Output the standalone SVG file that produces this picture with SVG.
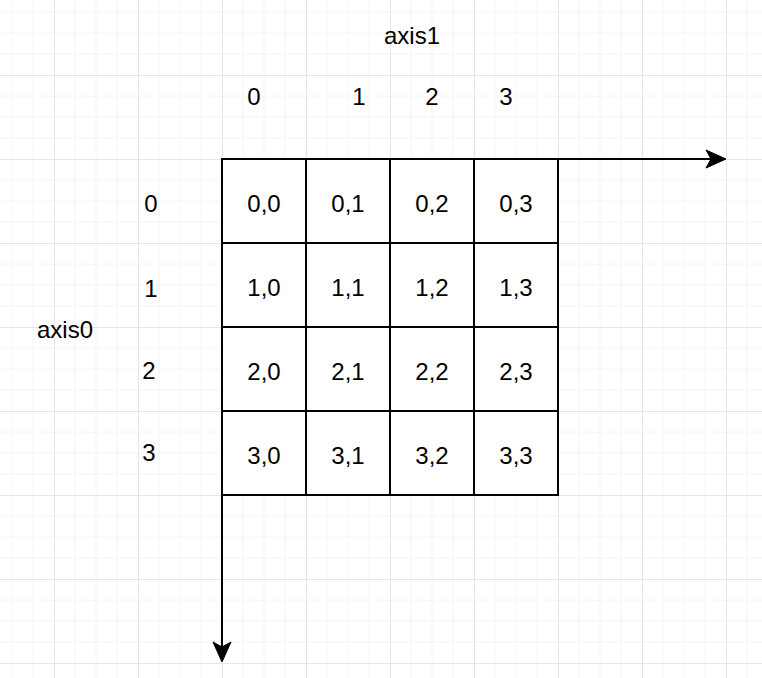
<svg xmlns="http://www.w3.org/2000/svg" width="762" height="678" viewBox="0 0 762 678">
<defs>
<pattern id="grid" x="-30" y="-9" width="84" height="84" patternUnits="userSpaceOnUse">
<path d="M21 0V84M42 0V84M63 0V84M0 21H84M0 42H84M0 63H84" stroke="#f4f4f4" stroke-width="1" fill="none"/>
<path d="M0.5 0V84M0 0.5H84" stroke="#e6e6e6" stroke-width="1" fill="none"/>
</pattern>
</defs>
<style>
text{font-family:"Liberation Sans",Arial,sans-serif;font-size:24px;fill:#000;text-anchor:middle}
.cell{fill:#fff;stroke:#000;stroke-width:2}
.ax{stroke:#000;stroke-width:2;fill:none}
.head{fill:#000;stroke:#000;stroke-width:1}
</style>
<rect width="762" height="678" fill="#fff"/>
<rect width="762" height="678" fill="url(#grid)"/>
<g id="labels">
<text id="axis1" x="412" y="44">axis1</text>
<text id="axis0" x="65" y="338">axis0</text>
<text x="254" y="105">0</text>
<text x="359" y="105">1</text>
<text x="432" y="105">2</text>
<text x="506" y="105">3</text>
<text x="151" y="212">0</text>
<text x="151" y="297">1</text>
<text x="149" y="379">2</text>
<text x="149" y="461">3</text>
</g>
<g id="table">
<g id="r0">
<rect class="cell" x="222" y="159" width="84" height="84"/><text x="264" y="212">0,0</text>
<rect class="cell" x="306" y="159" width="84" height="84"/><text x="348" y="212">0,1</text>
<rect class="cell" x="390" y="159" width="84" height="84"/><text x="432" y="212">0,2</text>
<rect class="cell" x="474" y="159" width="84" height="84"/><text x="516" y="212">0,3</text>
</g>
<g id="r1">
<rect class="cell" x="222" y="243" width="84" height="84"/><text x="264" y="296">1,0</text>
<rect class="cell" x="306" y="243" width="84" height="84"/><text x="348" y="296">1,1</text>
<rect class="cell" x="390" y="243" width="84" height="84"/><text x="432" y="296">1,2</text>
<rect class="cell" x="474" y="243" width="84" height="84"/><text x="516" y="296">1,3</text>
</g>
<g id="r2">
<rect class="cell" x="222" y="327" width="84" height="84"/><text x="264" y="380">2,0</text>
<rect class="cell" x="306" y="327" width="84" height="84"/><text x="348" y="380">2,1</text>
<rect class="cell" x="390" y="327" width="84" height="84"/><text x="432" y="380">2,2</text>
<rect class="cell" x="474" y="327" width="84" height="84"/><text x="516" y="380">2,3</text>
</g>
<g id="r3">
<rect class="cell" x="222" y="411" width="84" height="84"/><text x="264" y="464">3,0</text>
<rect class="cell" x="306" y="411" width="84" height="84"/><text x="348" y="464">3,1</text>
<rect class="cell" x="390" y="411" width="84" height="84"/><text x="432" y="464">3,2</text>
<rect class="cell" x="474" y="411" width="84" height="84"/><text x="516" y="464">3,3</text>
</g>
</g>
<g id="connectors">
<path class="ax" d="M222 159H712"/>
<path class="head" d="M726 159L706 150L711 159L706 168Z"/>
<path class="ax" d="M222 159V648"/>
<path class="head" d="M222 662L213 642L222 647L231 642Z"/>
</g>
</svg>
